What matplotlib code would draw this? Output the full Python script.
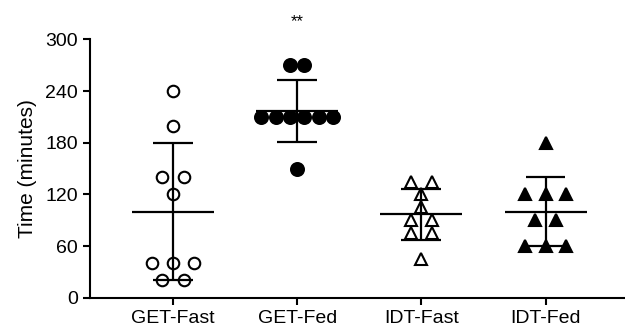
import numpy as np
import matplotlib
matplotlib.use("Agg")
import matplotlib.pyplot as plt

plt.rcParams['font.family'] = ['Liberation Sans', 'DejaVu Sans']

categories = ["GET-Fast", "GET-Fed", "IDT-Fast", "IDT-Fed"]
get_fast = [240, 200, 140, 140, 120, 40, 40, 40, 20, 20]
get_fed = [270, 270, 210, 210, 210, 210, 210, 210, 150]
idt_fast = [135, 135, 120, 105, 90, 90, 75, 75, 45]
idt_fed = [180, 120, 120, 120, 90, 90, 60, 60, 60]
groups = [get_fast, get_fed, idt_fast, idt_fed]
yticks = [0, 60, 120, 180, 240, 300]
annotation = "**"

markers = ['o', 'o', '^', '^']
faces = ['white', 'black', 'white', 'black']
msizes = [8.3, 9.3, 8.5, 8.5]
spacing = [0.17, 0.115, 0.17, 0.165]

fig = plt.figure(figsize=(6.25, 3.28), dpi=100)
ax = fig.add_axes([0.144, 0.0924, 0.856, 0.7872])

for i, vals in enumerate(groups):
    vals = np.asarray(vals, dtype=float)
    xs = np.zeros_like(vals)
    for u in np.unique(vals):
        idx = np.where(vals == u)[0]
        n = len(idx)
        xs[idx] = i + (np.arange(n) - (n - 1) / 2) * spacing[i]
    ax.plot(xs, vals, linestyle='none', marker=markers[i], ms=msizes[i],
            mfc=faces[i], mec='black', mew=1.5, zorder=2, clip_on=False)
    m = vals.mean()
    sd = vals.std(ddof=1)
    ax.hlines(m, i - 0.33, i + 0.33, color='black', lw=1.6, zorder=3)
    ax.hlines([m - sd, m + sd], i - 0.16, i + 0.16, color='black', lw=1.6, zorder=3)
    ax.vlines(i, m - sd, m + sd, color='black', lw=1.6, zorder=3)

ax.text(1, 321, annotation, ha='center', va='center', fontsize=12)

ax.set_xlim(-0.668, 3.64)
ax.set_ylim(0, 300)
ax.set_xticks(range(len(categories)))
ax.set_xticklabels(categories)
ax.set_yticks(yticks)
ax.set_ylabel("Time (minutes)", fontsize=15, labelpad=6)
ax.tick_params(axis='both', labelsize=14, width=1.5, length=5, direction='out')
ax.tick_params(axis='x', pad=4)
for s in ['top', 'right']:
    ax.spines[s].set_visible(False)
for s in ['left', 'bottom']:
    ax.spines[s].set_linewidth(1.5)

fig.savefig("out.png", dpi=100)
